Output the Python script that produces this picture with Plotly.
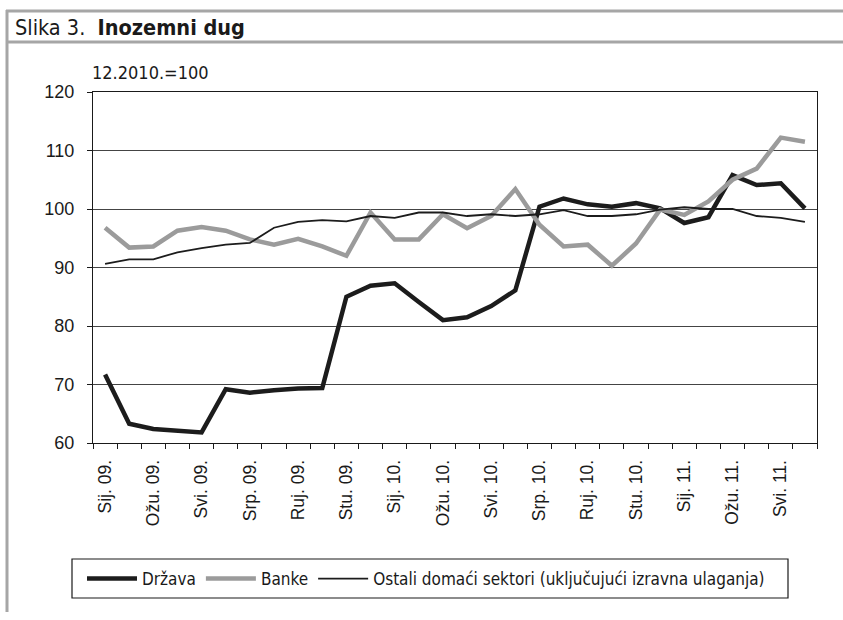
import plotly.graph_objects as go

# mjeseci sij. 2009 - lip. 2011
months = ["Sij. 09.", "Velj. 09.", "Ožu. 09.", "Tra. 09.", "Svi. 09.", "Lip. 09.",
          "Srp. 09.", "Kol. 09.", "Ruj. 09.", "Lis. 09.", "Stu. 09.", "Pro. 09.",
          "Sij. 10.", "Velj. 10.", "Ožu. 10.", "Tra. 10.", "Svi. 10.", "Lip. 10.",
          "Srp. 10.", "Kol. 10.", "Ruj. 10.", "Lis. 10.", "Stu. 10.", "Pro. 10.",
          "Sij. 11.", "Velj. 11.", "Ožu. 11.", "Tra. 11.", "Svi. 11.", "Lip. 11."]

drzava = [71.7, 63.3, 62.4, 62.1, 61.8, 69.2, 68.6, 69.0, 69.3, 69.4,
          85.0, 86.9, 87.3, 84.1, 81.0, 81.5, 83.4, 86.1, 100.4, 101.8,
          100.8, 100.4, 101.0, 100.1, 97.6, 98.6, 105.8, 104.1, 104.4, 100.1]

banke = [96.8, 93.4, 93.6, 96.3, 96.9, 96.3, 94.8, 93.9, 94.9, 93.6,
         92.0, 99.4, 94.8, 94.8, 99.1, 96.7, 98.8, 103.4, 97.3, 93.6,
         93.9, 90.3, 94.1, 99.9, 99.0, 101.3, 105.0, 106.9, 112.2, 111.5]

ostali = [90.6, 91.4, 91.4, 92.6, 93.3, 93.9, 94.2, 96.8, 97.8, 98.1,
          97.9, 98.8, 98.5, 99.4, 99.4, 98.8, 99.1, 98.8, 99.1, 99.8,
          98.8, 98.8, 99.1, 99.9, 100.3, 100.0, 100.0, 98.8, 98.5, 97.8]

tick_text = [m if i % 2 == 0 else "" for i, m in enumerate(months)]

W, H = 843, 620
ML, MR, MT, MB = 93, 26, 92, 177
PW, PH = W - ML - MR, H - MT - MB

NARROW = "DejaVu Sans Condensed, DejaVu Sans, sans-serif"
SANS = "Liberation Sans, Arial, sans-serif"


def px(x):
    return (x - ML) / PW


def py(y):
    return (H - MB - y) / PH


fig = go.Figure()
fig.add_trace(go.Scatter(x=months, y=drzava, name="Država", mode="lines",
                         line=dict(color="#1c1c1c", width=4.5)))
fig.add_trace(go.Scatter(x=months, y=banke, name="Banke", mode="lines",
                         line=dict(color="#9b9b9b", width=4.5)))
fig.add_trace(go.Scatter(x=months, y=ostali, name="Ostali domaći sektori (uključujući izravna ulaganja)",
                         mode="lines", line=dict(color="#1c1c1c", width=1.8)))

fig.update_layout(
    width=W, height=H,
    margin=dict(l=ML, r=MR, t=MT, b=MB),
    paper_bgcolor="white", plot_bgcolor="white",
    font=dict(family=SANS, size=17, color="#1a1a1a"),
    showlegend=True,
    legend=dict(orientation="h", x=px(82), y=py(579), xanchor="left", yanchor="middle",
                font=dict(family=NARROW, size=17, color="#1a1a1a"),
                bgcolor="rgba(0,0,0,0)", borderwidth=0, itemwidth=50,
                tracegroupgap=0),
    xaxis=dict(type="category", tickvals=months, ticktext=tick_text,
               tickangle=-90, tickson="boundaries", ticks="outside", ticklen=5,
               tickcolor="#1a1a1a", showline=True, linecolor="#1a1a1a", linewidth=1,
               mirror=True, showgrid=False, tickfont=dict(size=17.5),
               ticklabelstandoff=9, range=[-0.5, len(months) - 0.5]),
    yaxis=dict(range=[60, 120], dtick=10, ticks="outside", ticklen=5,
               tickcolor="#1a1a1a", showline=True, linecolor="#1a1a1a", linewidth=1,
               mirror=True, showgrid=True, gridcolor="#444444", gridwidth=1.3,
               zeroline=False, tickfont=dict(size=18), ticklabelstandoff=9),
)

# okvir slike
border = dict(color="#a6a6a6", width=3)
fig.add_shape(type="line", xref="paper", yref="paper", x0=px(6), x1=px(843),
              y0=py(11), y1=py(11), line=border)
fig.add_shape(type="line", xref="paper", yref="paper", x0=px(6), x1=px(843),
              y0=py(42), y1=py(42), line=border)
fig.add_shape(type="line", xref="paper", yref="paper", x0=px(7), x1=px(7),
              y0=py(10), y1=py(612), line=border)
# okvir legende
fig.add_shape(type="rect", xref="paper", yref="paper", x0=px(72), x1=px(788),
              y0=py(559), y1=py(598), line=dict(color="#1a1a1a", width=1.2))

fig.add_annotation(xref="paper", yref="paper", x=px(13), y=py(27), xanchor="left",
                   yanchor="middle", showarrow=False,
                   text="Slika 3.  <b>Inozemni dug</b>",
                   font=dict(family=NARROW, size=21.5, color="#1a1a1a"))
fig.add_annotation(xref="paper", yref="paper", x=px(90), y=py(73), xanchor="left",
                   yanchor="middle", showarrow=False, text="12.2010.=100",
                   font=dict(family=NARROW, size=18, color="#1a1a1a"))

fig.write_html("out.html", config={"displayModeBar": False},
               post_script="document.body.style.margin='0';")
